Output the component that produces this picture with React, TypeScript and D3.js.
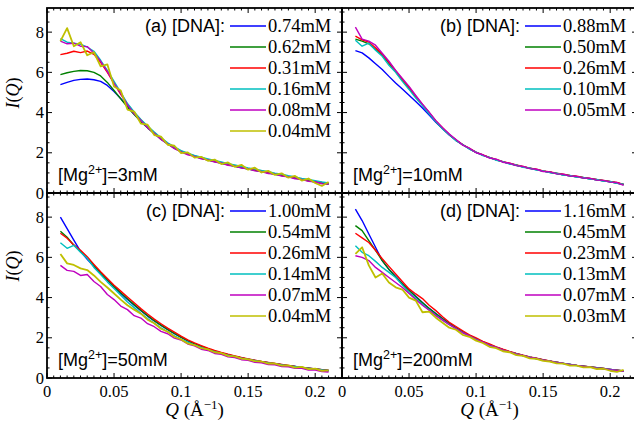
import React from "react";
import * as d3 from "d3";

// scattering vector grid (1/Angstrom)
const Q = [
  0.01, 0.015, 0.02, 0.025, 0.03, 0.035, 0.04, 0.045, 0.05, 0.055,
  0.06, 0.065, 0.07, 0.075, 0.08, 0.085, 0.09, 0.095, 0.1, 0.105,
  0.11, 0.115, 0.12, 0.125, 0.13, 0.135, 0.14, 0.145, 0.15, 0.155,
  0.16, 0.165, 0.17, 0.175, 0.18, 0.185, 0.19, 0.195, 0.2, 0.205, 0.21,
];

// (a) [Mg2+] = 3mM
const a074 = [5.39,5.5,5.6,5.65,5.67,5.63,5.55,5.35,5.05,4.7, 4.32,3.93,3.57,3.26,2.97,2.69,2.45,2.24,2.07,1.94, 1.83,1.74,1.65,1.57,1.49,1.41,1.34,1.27,1.2,1.14, 1.07,1.01,0.94,0.88,0.81,0.75,0.68,0.62,0.56,0.5, 0.45];
const a062 = [5.89,5.98,6.05,6.09,6.08,6.0,5.82,5.5,5.1,4.68, 4.28,3.9,3.55,3.24,2.95,2.68,2.44,2.23,2.06,1.93, 1.82,1.73,1.64,1.56,1.48,1.4,1.33,1.26,1.19,1.13, 1.06,1.0,0.93,0.87,0.8,0.74,0.67,0.61,0.55,0.49, 0.44];
const a031 = [6.88,6.95,7.05,6.98,7.06,6.9,6.5,6.0,5.45,4.9, 4.42,4.0,3.64,3.3,3.0,2.72,2.47,2.27,2.08,1.96, 1.84,1.76,1.66,1.6,1.5,1.44,1.35,1.3,1.21,1.17, 1.08,1.04,0.95,0.91,0.82,0.78,0.69,0.65,0.57,0.53, 0.46];
const a016 = [7.68,7.5,7.45,7.4,7.25,7.05,6.6,6.1,5.55,5.0, 4.45,4.03,3.66,3.33,3.03,2.75,2.5,2.29,2.11,1.98, 1.87,1.78,1.7,1.62,1.54,1.46,1.39,1.32,1.25,1.19, 1.12,1.06,0.99,0.93,0.86,0.8,0.73,0.67,0.61,0.55, 0.5];
const a008 = [7.55,7.42,7.45,7.3,7.28,6.95,6.55,6.05,5.45,4.95, 4.38,3.94,3.6,3.24,2.97,2.66,2.44,2.21,2.05,1.9, 1.82,1.7,1.65,1.54,1.49,1.38,1.34,1.24,1.2,1.1, 1.07,0.97,0.94,0.84,0.81,0.71,0.68,0.58,0.56,0.46, 0.44];
const a004 = [7.55,8.2,7.3,7.5,6.85,7.0,6.3,6.4,5.3,5.1, 4.15,4.05,3.45,3.4,2.88,2.8,2.4,2.35,1.98,2.02, 1.76,1.8,1.6,1.66,1.44,1.52,1.3,1.4,1.16,1.26, 1.02,1.1,0.9,0.98,0.76,0.85,0.62,0.72,0.5,0.35, 0.55];
const labelsA = ["0.74mM", "0.62mM", "0.31mM", "0.16mM", "0.08mM", "0.04mM"];

// (b) [Mg2+] = 10mM
const b088 = [7.08,6.97,6.72,6.43,6.14,5.8,5.47,5.17,4.86,4.55, 4.23,3.88,3.52,3.2,2.89,2.62,2.4,2.2,2.02,1.88, 1.76,1.65,1.55,1.46,1.38,1.3,1.23,1.16,1.09,1.03, 0.97,0.91,0.86,0.81,0.76,0.71,0.66,0.61,0.56,0.5, 0.42];
const b050 = [7.65,7.55,7.42,7.15,6.85,6.45,6.02,5.6,5.2,4.78, 4.37,3.97,3.56,3.21,2.9,2.62,2.4,2.2,2.02,1.88, 1.76,1.65,1.55,1.46,1.38,1.3,1.23,1.16,1.09,1.03, 0.97,0.91,0.86,0.81,0.76,0.71,0.66,0.61,0.56,0.5, 0.42];
const b026 = [7.8,7.62,7.5,7.22,6.9,6.5,6.08,5.65,5.25,4.82, 4.4,4.0,3.58,3.24,2.91,2.64,2.41,2.22,2.03,1.9, 1.77,1.67,1.56,1.48,1.39,1.32,1.24,1.18,1.1,1.05, 0.98,0.93,0.87,0.83,0.77,0.73,0.67,0.63,0.57,0.52, 0.43];
const b010 = [7.6,7.3,7.45,7.1,6.8,6.35,6.0,5.55,5.15,4.72, 4.35,3.94,3.55,3.18,2.9,2.6,2.41,2.18,2.03,1.86, 1.77,1.63,1.56,1.44,1.39,1.28,1.24,1.14,1.1,1.01, 0.98,0.89,0.87,0.79,0.77,0.69,0.67,0.59,0.57,0.48, 0.44];
const b005 = [8.25,7.65,7.55,7.35,6.95,6.55,6.1,5.7,5.3,4.85, 4.42,4.02,3.6,3.25,2.93,2.66,2.38,2.23,2.0,1.9, 1.74,1.68,1.53,1.48,1.36,1.32,1.21,1.18,1.07,1.05, 0.95,0.93,0.84,0.83,0.74,0.73,0.64,0.63,0.54,0.52, 0.38];
const labelsB = ["0.88mM", "0.50mM", "0.26mM", "0.10mM", "0.05mM"];

// (c) [Mg2+] = 50mM
const c100 = [8.0,7.43,6.86,6.3,5.9,5.55,5.2,4.86,4.52,4.2, 3.9,3.62,3.35,3.08,2.84,2.62,2.41,2.21,2.02,1.85, 1.7,1.57,1.44,1.33,1.24,1.15,1.07,1.0,0.93,0.87, 0.81,0.76,0.71,0.66,0.61,0.57,0.53,0.49,0.45,0.41, 0.37];
const c054 = [7.3,7.0,6.6,6.3,5.98,5.6,5.22,4.88,4.55,4.24, 3.94,3.65,3.37,3.1,2.85,2.63,2.42,2.22,2.03,1.86, 1.71,1.58,1.45,1.34,1.25,1.16,1.08,1.0,0.93,0.87, 0.81,0.76,0.71,0.66,0.61,0.57,0.53,0.49,0.45,0.41, 0.37];
const c026 = [7.2,6.95,6.62,6.35,6.03,5.65,5.28,4.95,4.61,4.32, 4.03,3.74,3.45,3.18,2.93,2.7,2.48,2.28,2.08,1.9, 1.75,1.61,1.48,1.37,1.27,1.18,1.1,1.02,0.95,0.88, 0.82,0.77,0.72,0.67,0.62,0.57,0.53,0.49,0.45,0.41, 0.37];
const c014 = [6.73,6.45,6.6,6.25,5.95,5.5,5.15,4.78,4.45,4.12, 3.78,3.5,3.22,2.96,2.72,2.5,2.3,2.1,1.92,1.78, 1.64,1.52,1.41,1.31,1.22,1.14,1.06,0.99,0.92,0.86, 0.8,0.75,0.7,0.65,0.6,0.56,0.52,0.48,0.44,0.4, 0.36];
const c007 = [5.6,5.35,5.3,5.1,5.15,4.8,4.55,4.15,3.9,3.58, 3.4,3.1,2.98,2.7,2.55,2.32,2.2,1.98,1.89,1.69, 1.6,1.43,1.37,1.22,1.18,1.05,1.02,0.91,0.88,0.78, 0.76,0.67,0.66,0.57,0.56,0.48,0.48,0.4,0.4,0.32, 0.3];
const c004 = [6.17,5.7,5.62,5.45,5.37,5.1,4.78,4.5,4.2,3.9, 3.62,3.4,3.2,2.9,2.72,2.45,2.3,2.05,1.92,1.72, 1.64,1.48,1.42,1.28,1.24,1.1,1.08,0.96,0.93,0.84, 0.82,0.72,0.72,0.62,0.63,0.52,0.55,0.44,0.47,0.35, 0.38];
const labelsC = ["1.00mM", "0.54mM", "0.26mM", "0.14mM", "0.07mM", "0.04mM"];

// (d) [Mg2+] = 200mM
const d116 = [8.4,7.83,7.16,6.5,5.84,5.4,5.05,4.7,4.38,4.06, 3.75,3.46,3.2,2.95,2.72,2.5,2.3,2.12,1.95,1.8, 1.66,1.53,1.41,1.3,1.21,1.12,1.04,0.97,0.9,0.84, 0.78,0.73,0.68,0.63,0.59,0.55,0.51,0.47,0.43,0.39, 0.35];
const d045 = [7.58,7.33,6.83,6.35,5.84,5.4,5.02,4.68,4.36,4.04, 3.74,3.45,3.19,2.94,2.71,2.49,2.29,2.11,1.94,1.79, 1.65,1.52,1.41,1.3,1.21,1.12,1.04,0.97,0.9,0.84, 0.78,0.73,0.68,0.63,0.59,0.55,0.51,0.47,0.43,0.39, 0.35];
const d023 = [7.2,6.97,6.74,6.35,5.93,5.55,5.17,4.8,4.43,4.18, 3.95,3.62,3.35,3.05,2.77,2.56,2.35,2.15,1.99,1.82, 1.69,1.55,1.43,1.32,1.22,1.13,1.05,0.98,0.91,0.85, 0.79,0.73,0.68,0.63,0.59,0.55,0.51,0.47,0.43,0.39, 0.35];
const d013 = [6.58,6.25,6.08,5.8,5.5,5.25,5.0,4.62,4.25,3.95, 3.65,3.38,3.12,2.88,2.66,2.45,2.26,2.08,1.92,1.77, 1.63,1.51,1.39,1.29,1.2,1.11,1.03,0.96,0.89,0.83, 0.77,0.72,0.67,0.62,0.58,0.54,0.5,0.46,0.42,0.38, 0.34];
const d007 = [6.08,6.0,5.84,5.5,5.25,5.0,4.75,4.5,4.2,3.9, 3.62,3.37,3.1,2.88,2.65,2.46,2.25,2.1,1.91,1.78, 1.62,1.52,1.38,1.3,1.19,1.12,1.02,0.97,0.88,0.84, 0.76,0.73,0.66,0.63,0.57,0.54,0.49,0.46,0.41,0.38, 0.33];
const d003 = [6.17,6.5,5.6,5.0,5.2,4.75,4.51,4.4,4.0,3.85, 3.27,3.3,3.0,2.75,2.5,2.4,2.15,2.05,1.86,1.74, 1.55,1.48,1.33,1.28,1.14,1.1,0.98,0.95,0.85,0.82, 0.73,0.71,0.62,0.62,0.53,0.54,0.44,0.46,0.36,0.3, 0.4];
const labelsD = ["1.16mM", "0.45mM", "0.23mM", "0.13mM", "0.07mM", "0.03mM"];

const colors = ["#0000ff", "#008000", "#ff0000", "#00bfbf", "#bf00bf", "#bfbf00"];
const xTicks = [0, 0.05, 0.1, 0.15, 0.2];
const yTicks = [0, 2, 4, 6, 8];

const SERIF = "'Liberation Serif', 'Times New Roman', serif";
const SANS = "'Liberation Sans', Arial, sans-serif";

const PW = 295;
const PH = 185;
const colX = [47, 342];
const rowY = [8, 193];

const panels = [
  { id: "a", tag: "(a) [DNA]:", mg: "3mM", labels: labelsA, series: [a074, a062, a031, a016, a008, a004], col: 0, row: 0 },
  { id: "b", tag: "(b) [DNA]:", mg: "10mM", labels: labelsB, series: [b088, b050, b026, b010, b005], col: 1, row: 0 },
  { id: "c", tag: "(c) [DNA]:", mg: "50mM", labels: labelsC, series: [c100, c054, c026, c014, c007, c004], col: 0, row: 1 },
  { id: "d", tag: "(d) [DNA]:", mg: "200mM", labels: labelsD, series: [d116, d045, d023, d013, d007, d003], col: 1, row: 1 },
];

const Panel = ({ p }) => {
  const x0 = colX[p.col];
  const y0 = rowY[p.row];
  const x = d3.scaleLinear().domain([0, 0.22]).range([x0, x0 + PW]);
  const y = d3.scaleLinear().domain([0, 9.2]).range([y0 + PH, y0]);
  const line = d3
    .line<number>()
    .x((_, i) => x(Q[i]))
    .y((v) => y(v));

  const xMinor = d3.range(0, 0.2201, 0.005);
  const yMinor = d3.range(0, 9.01, 0.5);

  return (
    <g>
      <defs>
        <clipPath id={`clip-${p.id}`}>
          <rect x={x0} y={y0} width={PW} height={PH} />
        </clipPath>
      </defs>
      <g clipPath={`url(#clip-${p.id})`}>
        {p.series.map((s, i) => (
          <path
            key={i}
            d={line(s) || ""}
            fill="none"
            stroke={colors[i]}
            strokeWidth={i === 5 ? 1.8 : 1.4}
            strokeLinejoin="round"
          />
        ))}
      </g>

      {/* inward ticks on all four sides */}
      <g stroke="#000" strokeWidth={1}>
        {xMinor.map((t, i) => {
          const len = i % 10 === 0 ? 5 : 2.5;
          return (
            <g key={`x${i}`}>
              <line x1={x(t)} x2={x(t)} y1={y0 + PH} y2={y0 + PH - len} />
              <line x1={x(t)} x2={x(t)} y1={y0} y2={y0 + len} />
            </g>
          );
        })}
        {yMinor.map((t, i) => {
          const len = i % 4 === 0 ? 5 : 2.5;
          return (
            <g key={`y${i}`}>
              <line x1={x0} x2={x0 + len} y1={y(t)} y2={y(t)} />
              <line x1={x0 + PW} x2={x0 + PW - len} y1={y(t)} y2={y(t)} />
            </g>
          );
        })}
      </g>
      <rect x={x0} y={y0} width={PW} height={PH} fill="none" stroke="#000" strokeWidth={1.8} />

      {p.col === 0 &&
        yTicks.map((t) => (
          <text key={t} x={x0 - 3} y={y(t) + 5.5} textAnchor="end" fontFamily={SERIF} fontSize={16.5}>
            {t}
          </text>
        ))}
      {p.row === 1 &&
        xTicks.map((t) => (
          <text key={t} x={x(t)} y={397} textAnchor="middle" fontFamily={SERIF} fontSize={16.5}>
            {String(t)}
          </text>
        ))}

      {/* legend */}
      <text x={x0 + 178} y={y0 + 24} textAnchor="end" fontFamily={SANS} fontSize={18}>
        {p.tag}
      </text>
      {p.labels.map((lab, i) => {
        const ly = y0 + 18 + 21 * i;
        return (
          <g key={lab}>
            <line x1={x0 + 183} x2={x0 + 219} y1={ly} y2={ly} stroke={colors[i]} strokeWidth={1.6} />
            <text x={x0 + 221} y={ly + 6} fontFamily={SERIF} fontSize={18.5}>
              {lab}
            </text>
          </g>
        );
      })}

      <text x={x0 + 11} y={y0 + 173} fontFamily={SANS} fontSize={18}>
        [Mg
        <tspan dy={-7} fontSize={12.5}>
          2+
        </tspan>
        <tspan dy={7}>]={p.mg}</tspan>
      </text>

      {p.col === 0 && (
        <text
          transform={`translate(19, ${p.row === 0 ? 93 : 266}) rotate(-90)`}
          textAnchor="middle"
          fontFamily={SERIF}
          fontSize={18}
        >
          <tspan fontStyle="italic">I</tspan>(<tspan fontStyle="italic">Q</tspan>)
        </text>
      )}
      {p.row === 1 && (
        <text x={x0 + PW / 2} y={416} textAnchor="middle" fontFamily={SERIF} fontSize={19}>
          <tspan fontStyle="italic">Q</tspan> (Å
          <tspan dy={-7} fontSize={13}>
            −1
          </tspan>
          <tspan dy={7}>)</tspan>
        </text>
      )}
    </g>
  );
};

export default function App() {
  return (
    <svg
      width={634}
      height={423}
      style={{ position: "absolute", left: 0, top: 0, background: "#fff" }}
    >
      {panels.map((p) => (
        <Panel key={p.id} p={p} />
      ))}
    </svg>
  );
}
